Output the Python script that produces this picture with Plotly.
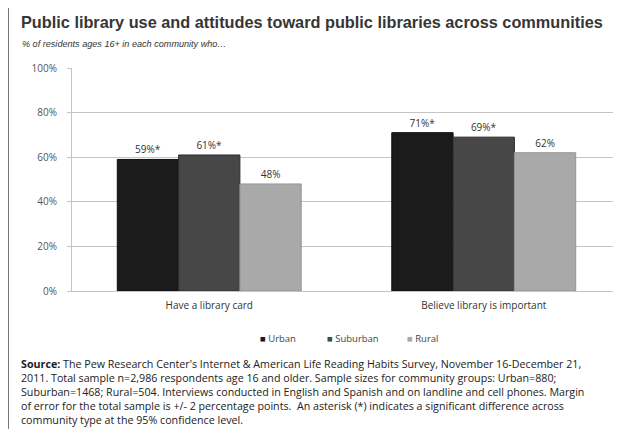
import plotly.graph_objects as go

categories = ["Have a library card", "Believe library is important"]
series_names = ["Urban", "Suburban", "Rural"]
urban = [59, 71]
suburban = [61, 69]
rural = [48, 62]
urban_labels = ["59%*", "71%*"]
suburban_labels = ["61%*", "69%*"]
rural_labels = ["48%", "62%"]
y_ticks = [0, 20, 40, 60, 80, 100]
y_tick_labels = ["0%", "20%", "40%", "60%", "80%", "100%"]

title_text = "Public library use and attitudes toward public libraries across communities"
subtitle_text = "% of residents ages 16+ in each community who\u2026"
source_lines = [
    "<b>Source:</b> The Pew Research Center's Internet & American Life Reading Habits Survey, November 16-December 21,",
    "2011. Total sample n=2,986 respondents age 16 and older. Sample sizes for community groups: Urban=880;",
    "Suburban=1468; Rural=504. Interviews conducted in English and Spanish and on landline and cell phones. Margin",
    "of error for the total sample is +/- 2 percentage points.  An asterisk (*) indicates a significant difference across",
    "community type at the 95% confidence level.",
]

# page has an 8px body margin; work in reference-pixel coordinates and shift
OFF = 8
W, H = 621 - OFF, 429 - OFF
L = 72 - OFF
T = 68 - OFF
R = 0
B = H - (291 - OFF)
pw = W - L - R
ph = H - T - B

def px(x):
    return (x - OFF - L) / pw

def py(y):
    return (H - B - (y - OFF)) / ph

FONT = "Liberation Sans, Arial, sans-serif"
TFONT = "Open Sans, sans-serif"

colors = ["#1b1b1b", "#474747", "#a9a9a9"]
edge = ["#0d0d0d", "#2e2e2e", "#959595"]
vals = [urban, suburban, rural]
labs = [urban_labels, suburban_labels, rural_labels]

fig = go.Figure()
for name, v, lab, c, e in zip(series_names, vals, labs, colors, edge):
    fig.add_trace(go.Bar(
        name=name, x=categories, y=v, text=lab, textposition="outside",
        textfont=dict(size=10, color="#333333", family=TFONT),
        marker=dict(color=c, line=dict(color=e, width=1)),
        cliponaxis=False, showlegend=False,
    ))

fig.update_layout(
    width=W, height=H,
    margin=dict(l=L, r=R, t=T, b=B),
    paper_bgcolor="white", plot_bgcolor="white",
    barmode="group", bargap=0.33, bargroupgap=0,
    font=dict(family=TFONT, size=10, color="#333333"),
    showlegend=False,
    yaxis=dict(range=[0, 100], tickvals=y_ticks, ticktext=y_tick_labels,
               showgrid=True, gridcolor="#c4c4c4", gridwidth=1,
               showline=True, linecolor="#c4c4c4", linewidth=1,
               ticks="outside", ticklen=4, tickcolor="#c4c4c4",
               tickfont=dict(size=10, color="#555555", family=TFONT), zeroline=False,
               ticklabelstandoff=8),
    xaxis=dict(showline=True, linecolor="#c4c4c4", linewidth=1,
               tickfont=dict(size=10, color="#333333", family=TFONT), ticks="",
               ticklabelstandoff=5),
)

fig.add_annotation(text="<b>" + title_text + "</b>", xref="paper", yref="paper", x=px(19), y=py(22),
                   xanchor="left", yanchor="middle", showarrow=False,
                   font=dict(size=16.3, color="#363636", family=FONT))
fig.add_annotation(text="<i>" + subtitle_text + "</i>", xref="paper", yref="paper", x=px(20), y=py(44),
                   xanchor="left", yanchor="middle", showarrow=False,
                   font=dict(size=9.1, color="#333333", family=FONT))

fig.add_annotation(text="<br>".join(source_lines), xref="paper", yref="paper", x=px(19), y=py(355),
                   xanchor="left", yanchor="top", align="left", showarrow=False,
                   font=dict(size=10.7, color="#222222", family=TFONT))

# legend drawn as text with coloured squares
legend_x = [258, 325, 405]
for name, c, lx in zip(series_names, colors, legend_x):
    fig.add_annotation(text="<span style='color:%s'>\u25A0</span> %s" % (c, name),
                       xref="paper", yref="paper", x=px(lx), y=py(338),
                       xanchor="left", yanchor="middle", showarrow=False,
                       font=dict(size=9.5, color="#444444", family=TFONT))

# frame lines (left and top)
fig.add_shape(type="line", xref="paper", yref="paper", x0=px(8), x1=px(8), y0=py(6), y1=py(440),
              line=dict(color="#777777", width=2))
fig.add_shape(type="line", xref="paper", yref="paper", x0=px(8), x1=px(640), y0=py(6), y1=py(6),
              line=dict(color="#777777", width=2))

fig.write_html("out.html")
